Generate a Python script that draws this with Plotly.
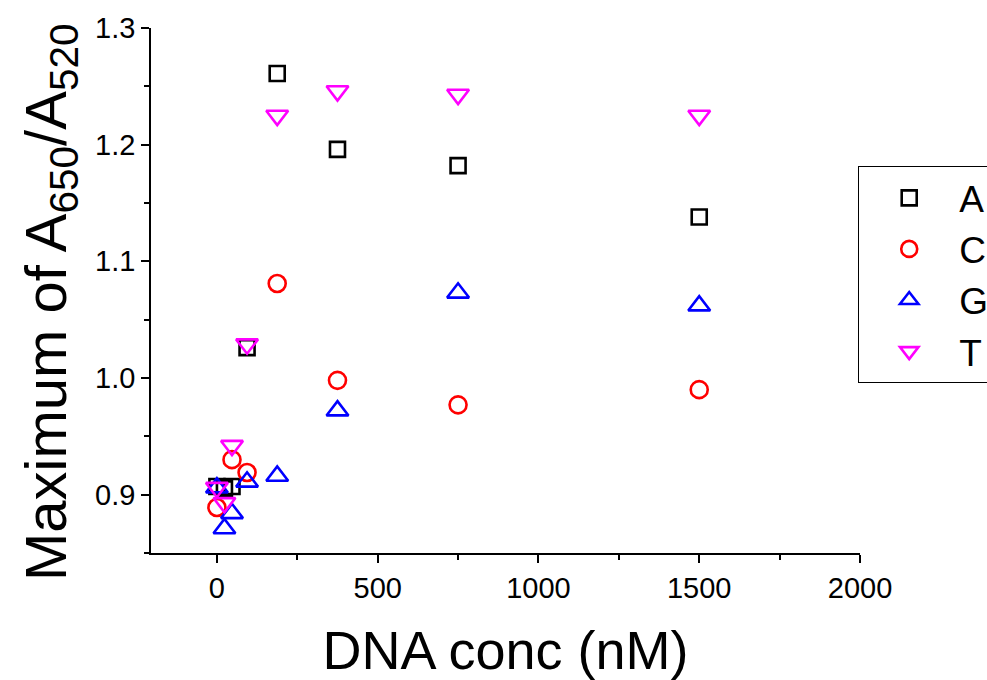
import plotly.graph_objects as go

# DNA concentration (nM) shared by every sequence
dna_conc = [0, 23.4, 46.9, 93.75, 187.5, 375, 750, 1500]

# Maximum A650/A520 ratio for each nucleotide
ratio_A = [0.907, 0.905, 0.907, 1.026, 1.261, 1.196, 1.182, 1.138]
ratio_C = [0.889, None, 0.930, 0.919, 1.081, 0.998, 0.977, 0.990]
ratio_G = [0.906, 0.871, 0.884, 0.911, 0.916, 0.972, 1.073, 1.062]
ratio_T = [0.906, 0.893, 0.942, 1.029, 1.225, 1.246, 1.243, 1.225]

series_names = ["A", "C", "G", "T"]

x_tickvals = [0, 500, 1000, 1500, 2000]
y_tickvals = [0.9, 1.0, 1.1, 1.2, 1.3]

FONT = "Liberation Sans, Arial, sans-serif"

styles = [
    dict(symbol="square-open", color="#000000", size=15),
    dict(symbol="circle-open", color="#FF0000", size=17),
    dict(symbol="triangle-up-open", color="#0000FF", size=19),
    dict(symbol="triangle-down-open", color="#FF00FF", size=19),
]

fig = go.Figure()
for name, values, st in zip(series_names, [ratio_A, ratio_C, ratio_G, ratio_T], styles):
    fig.add_trace(go.Scatter(
        x=dna_conc, y=values, name=name, mode="markers",
        marker=dict(symbol=st["symbol"], size=st["size"], color=st["color"],
                    line=dict(color=st["color"], width=2.6)),
    ))

axis_common = dict(
    showline=True, linecolor="black", linewidth=1.5,
    ticks="outside", ticklen=8, tickwidth=1.5, tickcolor="black",
    showgrid=False, zeroline=False, mirror=False,
    tickfont=dict(family=FONT, size=29, color="black"),
)

fig.update_layout(
    width=987, height=680,
    margin=dict(l=151, r=127, t=28, b=127, autoexpand=False),
    paper_bgcolor="white", plot_bgcolor="white",
    font=dict(family=FONT, color="black"),
    xaxis=dict(
        range=[-205, 2000], tickvals=x_tickvals,
        minor=dict(ticks="outside", ticklen=5, tickwidth=1.5, tickcolor="black",
                   tick0=250, dtick=500),
        title=dict(text="DNA conc (nM)", font=dict(family=FONT, size=54, color="black"),
                   standoff=30),
        **axis_common,
    ),
    yaxis=dict(
        range=[0.85, 1.3], tickvals=y_tickvals, tickformat=".1f",
        minor=dict(ticks="outside", ticklen=5, tickwidth=1.5, tickcolor="black",
                   tick0=0.85, dtick=0.1),
        **axis_common,
    ),
    legend=dict(
        x=0.9972, y=0.737, xanchor="left", yanchor="top",
        xref="paper", yref="paper",
        bordercolor="black", borderwidth=1.2, bgcolor="white",
        font=dict(family=FONT, size=37, color="black"),
        itemwidth=90, tracegroupgap=0,
    ),
    showlegend=True,
)

# Vertical axis title, set slightly below the plot's middle
fig.add_annotation(
    text="Maximum of A<sub>650</sub>/A<sub>520</sub>",
    xref="paper", yref="paper", x=-0.1425, y=0.478,
    xanchor="center", yanchor="middle", textangle=-90, showarrow=False,
    font=dict(family=FONT, size=58, color="black"),
)

fig.write_html("out.html")
